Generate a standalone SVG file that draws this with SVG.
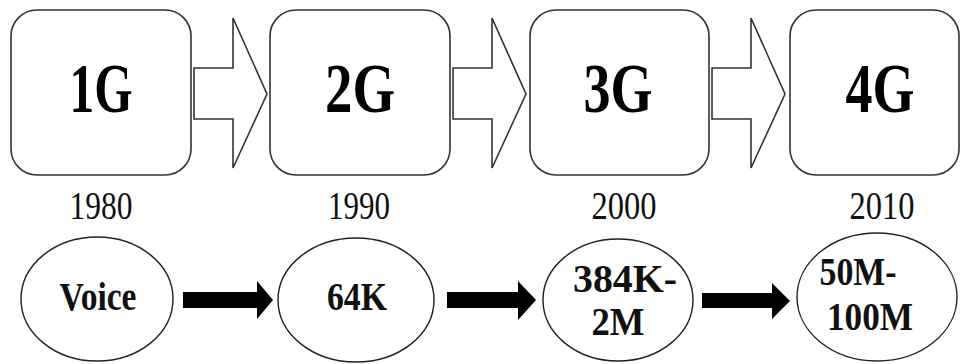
<svg xmlns="http://www.w3.org/2000/svg" width="961" height="364" viewBox="0 0 961 364">
  <style>
    .gen { fill: #fff; stroke: #333; stroke-width: 1.6; }
    .hollow { fill: #fff; stroke: #333; stroke-width: 1.6; stroke-linejoin: miter; }
    .rate { fill: #fff; stroke: #222; stroke-width: 1.4; }
    .solid { fill: #000; stroke: none; }
    .big { font-family: "Liberation Serif", "Times New Roman", serif; font-weight: bold; font-size: 70px; text-anchor: middle; fill: #000; }
    .year { font-family: "Liberation Serif", "Times New Roman", serif; font-size: 40px; text-anchor: middle; fill: #111; }
    .speed { font-family: "Liberation Serif", "Times New Roman", serif; font-weight: bold; font-size: 39px; text-anchor: middle; fill: #111; }
  </style>
  <rect width="961" height="364" fill="#fff"/>

  <!-- generation boxes -->
  <g id="gen1">
    <rect class="gen" x="11" y="10" width="180" height="165" rx="26"/>
    <text class="big" x="101" y="112" textLength="63" lengthAdjust="spacingAndGlyphs">1G</text>
  </g>
  <g id="gen2">
    <rect class="gen" x="270" y="10" width="180" height="165" rx="26"/>
    <text class="big" x="360" y="112" textLength="70" lengthAdjust="spacingAndGlyphs">2G</text>
  </g>
  <g id="gen3">
    <rect class="gen" x="530" y="10" width="179" height="165" rx="26"/>
    <text class="big" x="618" y="112" textLength="69" lengthAdjust="spacingAndGlyphs">3G</text>
  </g>
  <g id="gen4">
    <rect class="gen" x="790" y="10" width="169" height="165" rx="26"/>
    <text class="big" x="880" y="112" textLength="69" lengthAdjust="spacingAndGlyphs">4G</text>
  </g>

  <!-- years -->
  <g id="years">
    <text class="year" x="101" y="219" textLength="63" lengthAdjust="spacingAndGlyphs">1980</text>
    <text class="year" x="359" y="219" textLength="62" lengthAdjust="spacingAndGlyphs">1990</text>
    <text class="year" x="624" y="219" textLength="65" lengthAdjust="spacingAndGlyphs">2000</text>
    <text class="year" x="882" y="219" textLength="65" lengthAdjust="spacingAndGlyphs">2010</text>
  </g>

  <!-- data rate ellipses -->
  <g id="rate1">
    <ellipse class="rate" cx="97" cy="299" rx="76" ry="62"/>
    <text class="speed" x="98" y="310" textLength="77" lengthAdjust="spacingAndGlyphs">Voice</text>
  </g>
  <g id="rate2">
    <ellipse class="rate" cx="356" cy="300" rx="78" ry="62"/>
    <text class="speed" x="357" y="310" textLength="60" lengthAdjust="spacingAndGlyphs">64K</text>
  </g>
  <g id="rate3">
    <ellipse class="rate" cx="618" cy="300" rx="75" ry="61"/>
    <text class="speed" x="625" y="292" font-size="37" textLength="104" lengthAdjust="spacingAndGlyphs">384K-</text>
    <text class="speed" x="618" y="335" font-size="37" textLength="53" lengthAdjust="spacingAndGlyphs">2M</text>
  </g>
  <g id="rate4">
    <ellipse class="rate" cx="877" cy="297" rx="80" ry="64"/>
    <text class="speed" x="858" y="285" font-size="37" textLength="77" lengthAdjust="spacingAndGlyphs">50M-</text>
    <text class="speed" x="870" y="330" font-size="37" textLength="86" lengthAdjust="spacingAndGlyphs">100M</text>
  </g>

  <!-- connectors -->
  <g id="connectors">
    <!-- hollow block arrows between generations -->
    <polygon class="hollow" points="194,68 233,68 233,18 267,94 233,168 233,119 194,119"/>
    <polygon class="hollow" points="453,68 492,68 492,18 526,94 492,168 492,119 453,119"/>
    <polygon class="hollow" points="712,68 751,68 751,18 785,94 751,168 751,119 712,119"/>
    <!-- solid arrows between data rates -->
    <polygon class="solid" points="183,292 257,292 257,281 273,300 257,319 257,308 183,308"/>
    <polygon class="solid" points="447,292 518,292 518,281 536,300 518,320 518,308 447,308"/>
    <polygon class="solid" points="702,293 772,293 772,283 790,301 772,319 772,308 702,308"/>
  </g>
</svg>
